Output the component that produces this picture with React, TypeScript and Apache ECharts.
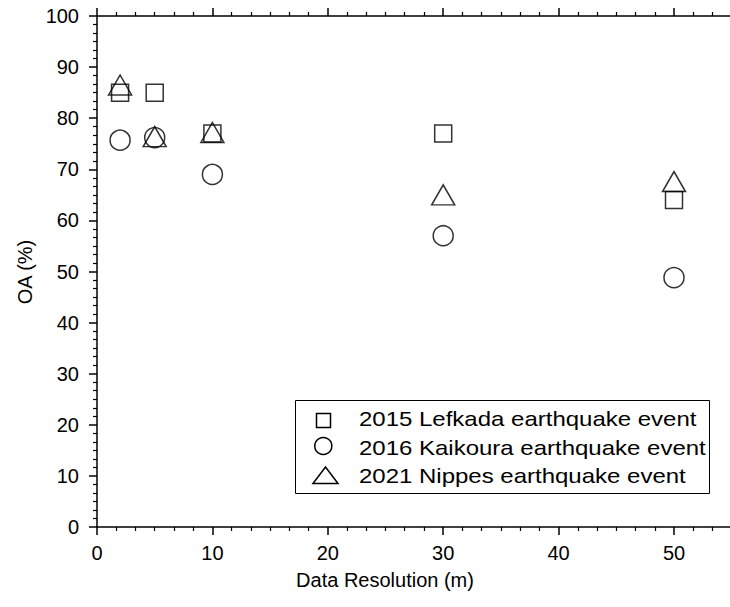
import React, { useEffect, useRef } from "react";
import * as echarts from "echarts";

// Data resolution (m) of each test
const resolutions = [2, 5, 10, 30, 50];

// Overall accuracy (%) per event
const lefkadaOA = [85, 85, 77, 77, 64];
const kaikouraOA = [75.7, 76.2, 69, 57, 48.8];
const nippesOA = [86.5, 76.4, 77.2, 65, 67.6];

const seriesNames = [
  "2015 Lefkada earthquake event",
  "2016 Kaikoura earthquake event",
  "2021 Nippes earthquake event",
];

const yTicks = [0, 10, 20, 30, 40, 50, 60, 70, 80, 90, 100];

const FONT = '"Liberation Sans", Arial, Helvetica, sans-serif';

function pairs(ys: number[]) {
  return resolutions.map((x, i) => [x, ys[i]]);
}

export default function App() {
  const ref = useRef<HTMLDivElement>(null);

  useEffect(() => {
    if (!ref.current) return;
    const chart = echarts.init(ref.current, null, { renderer: "svg" });

    const markerStyle = {
      color: "rgba(0,0,0,0)",
      borderColor: "#000",
      borderWidth: 1.5,
    };

    const axisLine = { show: true, lineStyle: { color: "#000", width: 1.5 } };
    const major = { show: true, length: 8, lineStyle: { color: "#000", width: 1.5 } };
    const minor = { show: true, splitNumber: 6, length: 4, lineStyle: { color: "#000", width: 1.2 } };

    const stroke = { fill: "none", stroke: "#000", lineWidth: 1.5 };
    const legendText = (text: string, y: number) => ({
      type: "text",
      x: 359,
      y,
      scaleX: 1.2,
      style: { text, font: `20px ${FONT}`, fill: "#000", align: "left", verticalAlign: "middle" },
    });

    chart.setOption({
      animation: false,
      backgroundColor: "#fff",
      // the x range runs to 60 so that the frame continues past the right edge
      grid: {
        left: 97,
        top: 16,
        width: 692.4,
        height: 511,
        containLabel: false,
        outerBoundsMode: "none",
      },
      xAxis: [
        {
          type: "value",
          position: "bottom",
          min: 0,
          max: 60,
          interval: 10,
          axisLine,
          axisTick: major,
          minorTick: minor,
          splitLine: { show: false },
          minorSplitLine: { show: false },
          axisLabel: {
            fontFamily: FONT,
            fontSize: 20,
            color: "#000",
            margin: 16,
            formatter: (v: number) => (v <= 50 ? String(v) : ""),
          },
        },
        {
          type: "value",
          position: "top",
          min: 0,
          max: 60,
          interval: 10,
          axisLine,
          axisTick: major,
          minorTick: minor,
          splitLine: { show: false },
          axisLabel: { show: false },
        },
      ],
      yAxis: {
        type: "value",
        min: yTicks[0],
        max: yTicks[yTicks.length - 1],
        interval: 10,
        axisLine,
        axisTick: major,
        minorTick: minor,
        splitLine: { show: false },
        minorSplitLine: { show: false },
        axisLabel: { fontFamily: FONT, fontSize: 20, color: "#000", margin: 18 },
      },
      graphic: [
        {
          type: "group",
          z: 10,
          children: [
            {
              type: "rect",
              shape: { x: 295.5, y: 400.5, width: 414, height: 93 },
              style: { fill: "#fff", stroke: "#000", lineWidth: 1 },
            },
            {
              type: "rect",
              shape: { x: 316.5, y: 413.5, width: 14, height: 14 },
              style: stroke,
            },
            {
              type: "circle",
              shape: { cx: 323.3, cy: 446, r: 8.5 },
              style: stroke,
            },
            {
              type: "polygon",
              shape: { points: [[325.5, 467], [338, 483.5], [313, 483.5]] },
              style: stroke,
            },
            legendText(seriesNames[0], 419.5),
            legendText(seriesNames[1], 448.5),
            legendText(seriesNames[2], 476.5),
          ],
        },
        {
          type: "text",
          x: 385,
          y: 580,
          style: {
            text: "Data Resolution (m)",
            font: `20px ${FONT}`,
            fill: "#000",
            align: "center",
            verticalAlign: "middle",
          },
        },
        {
          type: "text",
          x: 25,
          y: 272,
          rotation: Math.PI / 2,
          style: {
            text: "OA (%)",
            font: `20px ${FONT}`,
            fill: "#000",
            align: "center",
            verticalAlign: "middle",
          },
        },
      ],
      series: [
        {
          name: seriesNames[0],
          type: "scatter",
          symbol: "rect",
          symbolSize: 17,
          itemStyle: markerStyle,
          data: pairs(lefkadaOA),
        },
        {
          name: seriesNames[1],
          type: "scatter",
          symbol: "circle",
          symbolSize: 20,
          itemStyle: markerStyle,
          data: pairs(kaikouraOA),
        },
        {
          name: seriesNames[2],
          type: "scatter",
          symbol: "triangle",
          symbolSize: [23, 20],
          itemStyle: markerStyle,
          data: pairs(nippesOA),
        },
      ],
    });

    return () => chart.dispose();
  }, []);

  return (
    <div
      ref={ref}
      style={{ position: "fixed", left: 0, top: 0, width: 730, height: 607, background: "#fff" }}
    />
  );
}
